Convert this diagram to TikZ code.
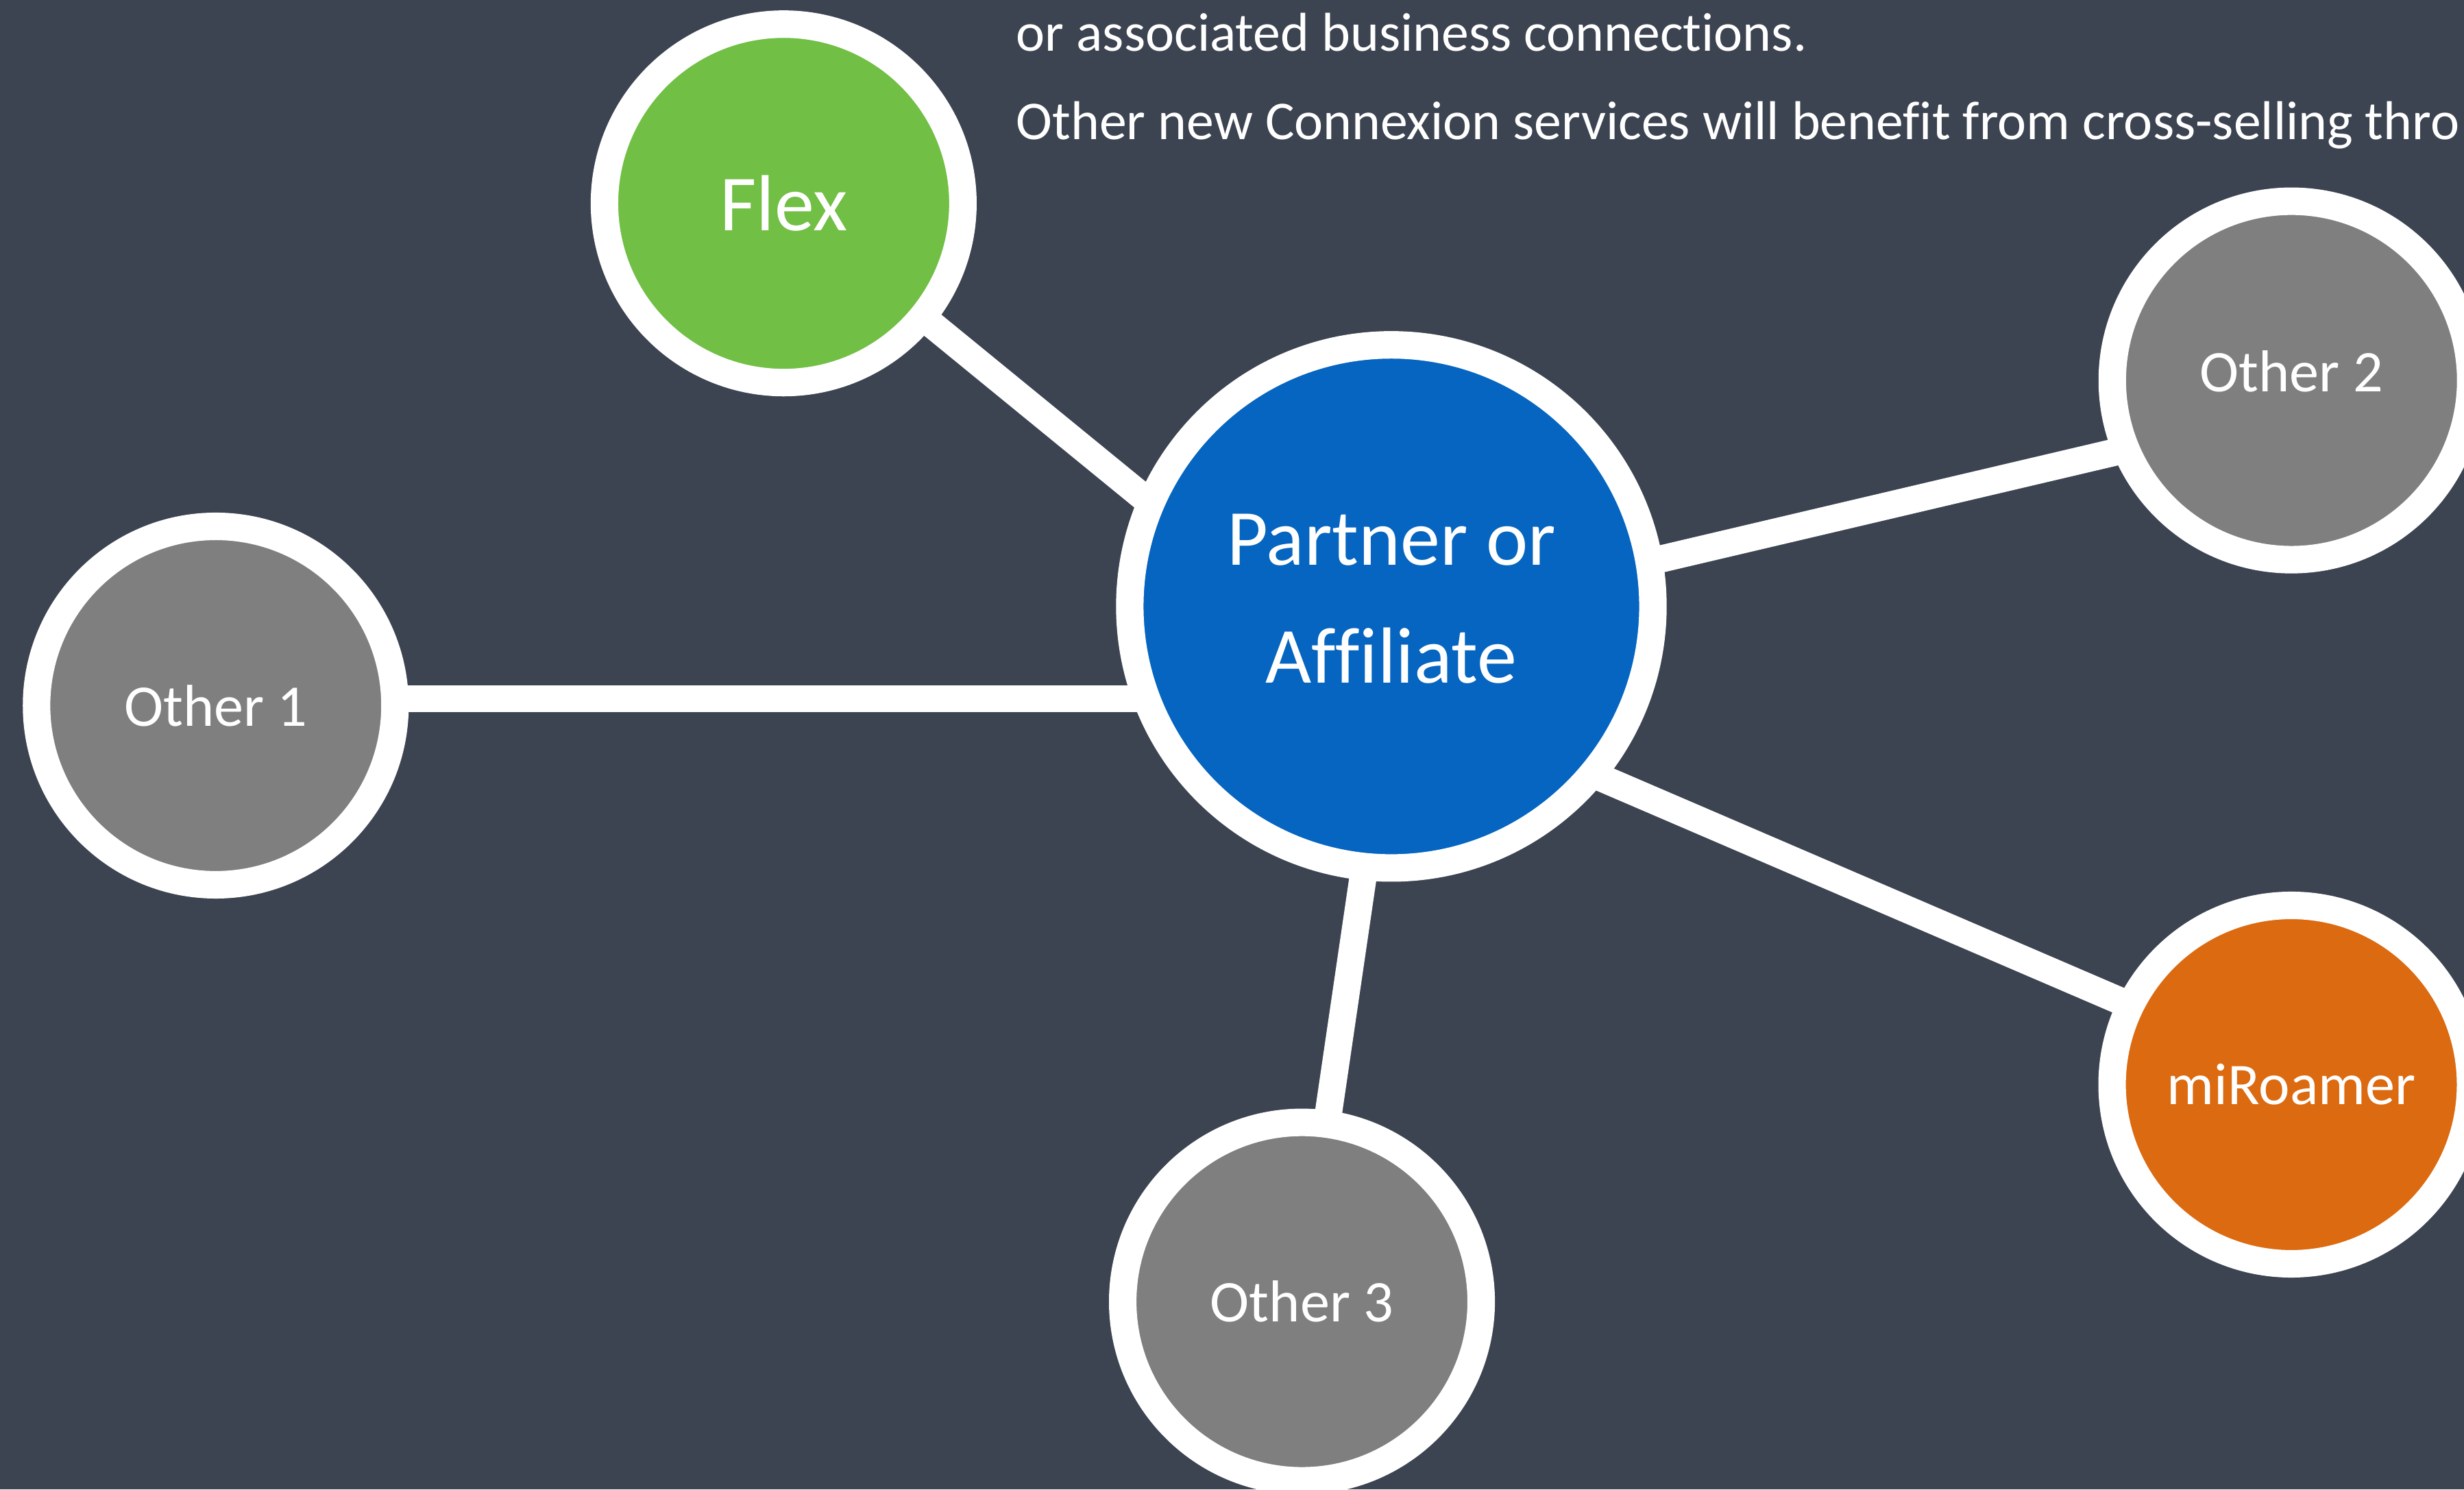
\documentclass[tikz,border=0pt]{standalone}
\usepackage{fontspec}
\setmainfont{Carlito}[Ligatures=NoCommon]
\usetikzlibrary{backgrounds}
\definecolor{slate}{HTML}{3D4451}
\definecolor{flexgreen}{HTML}{71BF44}
\definecolor{hubblue}{HTML}{0565C0}
\definecolor{midgrey}{HTML}{7F7F7F}
\definecolor{roamorange}{HTML}{DC6A10}
\tikzset{
bubble/.style={
  circle, 
  draw=white, 
  line width=0.175cm, 
  minimum size=2.281cm, 
  inner sep=0pt, text=white, 
  font=\fontsize{10.7}{13}\selectfont
  }, 
hub/.style={
  bubble, 
  minimum size=3.329cm, align=center, text depth=0.1cm, 
  font=\fontsize{14.4}{21.3}\selectfont
  }, 
note/.style={anchor=base west, inner sep=0pt, text=white, font=\fontsize{9.9}{12}\selectfont}, 
link/.style={white, line width=0.173cm, shorten <=-3pt, shorten >=-3pt}
}
\begin{document}
\begin{tikzpicture}
\useasboundingbox (0,0) rectangle (15.68,-9.478);
\clip (0,0) rectangle (15.68,-9.478);
\node[hub, fill=hubblue] (partner) at (8.854,-3.859) {Partner or\\Affiliate};
\node[bubble, fill=flexgreen, font=\fontsize{14.4}{17}\selectfont] (flex) at (4.987,-1.294) {Flex};
\node[bubble, fill=midgrey] (other1) at (1.373,-4.49) {Other 1};
\node[bubble, fill=midgrey, text depth=0.12cm] (other2) at (14.582,-2.421) {Other 2};
\node[bubble, fill=midgrey] (other3) at (8.285,-8.283) {Other 3};
\node[bubble, fill=roamorange] (miroamer) at (14.581,-6.902) {miRoamer};
\node[note] (assoc) at (6.46,-0.327) {or associated business connections.};
\node[note] (crosssell) at (6.46,-0.887) {Other new Connexion services will benefit from cross-selling thro};
\begin{scope}[on background layer]
\fill[slate] (0,0) rectangle (15.68,-9.478);
\draw[link] (flex) -- (partner.156);
\draw[link] (other1.2) -- (other1.2 -| partner.center);
\draw[link] (partner.10) -- (other2.202);
\draw[link] (partner.264) -- (other3.82);
\draw[link] (partner.-39) -- (miroamer.154);
\end{scope}
\end{tikzpicture}
\end{document}
